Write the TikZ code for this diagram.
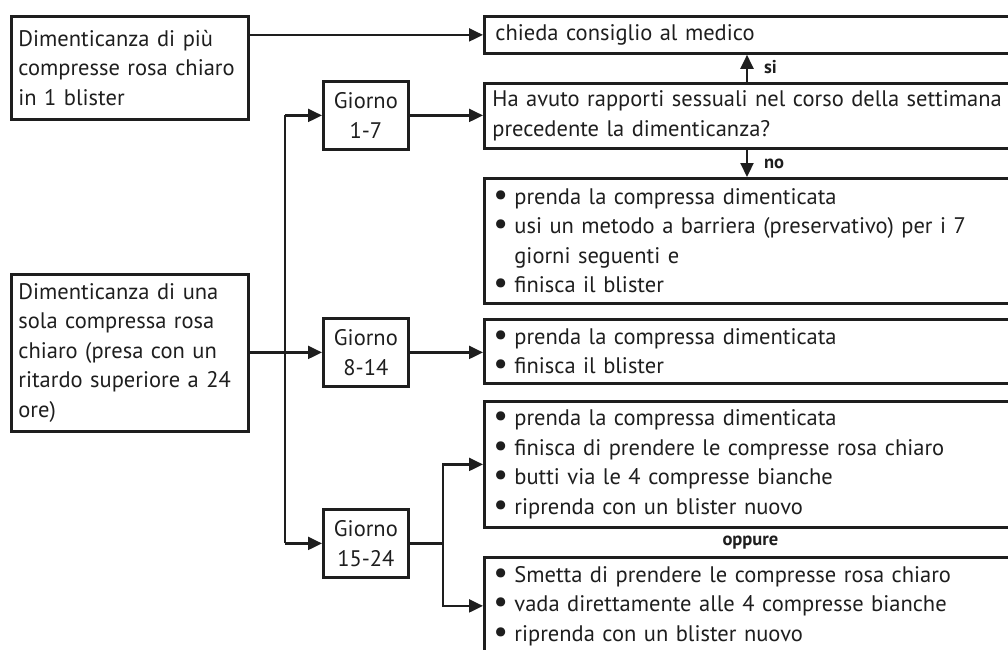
\documentclass[tikz,border=0pt]{standalone}
\usepackage{fontspec}
\setmainfont{PT Sans}
\usetikzlibrary{arrows.meta,calc}
\definecolor{ink}{HTML}{1E1E1E}
\newcommand{\bul}{\leavevmode\makebox[21pt][l]{\raisebox{-1pt}{\scalebox{1.45}{•}}}}
\newcommand{\ind}{\leavevmode\makebox[21pt][l]{\phantom{•}}}
\begin{document}
\begin{tikzpicture}[x=1pt,y=-1pt,
  every node/.style={text=ink},
  box/.style={draw=ink,line width=2.8pt,anchor=north west,align=left,inner xsep=7pt,inner ysep=0pt,
    font=\fontsize{22.5}{29.5}\selectfont},
  rbox/.style={box,minimum width=532pt,text width=516pt},
  day/.style={draw=ink,line width=2.8pt,anchor=north west,align=center,inner sep=0pt,
    minimum width=85pt,minimum height=68pt,font=\fontsize{22.5}{30}\selectfont},
  conn/.style={draw=ink,line width=2.2pt},
  arr/.style={conn,-{Triangle[length=14pt,width=13pt]}},
  lab/.style={font=\fontsize{18.5}{20}\selectfont\bfseries,inner sep=0pt}]
\useasboundingbox (0,0) rectangle (1008,649);
\begin{scope}
\clip (0,0) rectangle (1008,649);
\node[box,minimum width=237pt,minimum height=103pt,text width=223pt] (A) at (10,15)
  {Dimenticanza di più\\compresse rosa chiaro\\in 1 blister};
\node[box,minimum width=237pt,minimum height=157pt,text width=223pt] (B) at (10,273)
  {Dimenticanza di una\\sola compressa rosa\\chiaro (presa con un\\ritardo superiore a 24\\ore)};
\node[rbox,minimum height=37pt,inner xsep=11pt,text width=510pt] (med) at (483,15) {chieda consiglio al medico};
\node[rbox,minimum height=65pt] (q) at (483,82)
  {Ha avuto rapporti sessuali nel corso della settimana\\precedente la dimenticanza?};
\node[rbox,minimum height=125pt,inner xsep=9pt,text width=514pt] (r1) at (483,177)
  {\bul prenda la compressa dimenticata\\\bul usi un metodo a barriera (preservativo) per i 7\\\ind giorni seguenti e\\\bul finisca il blister};
\node[rbox,minimum height=64pt,inner xsep=9pt,text width=514pt] (r2) at (483,318)
  {\bul prenda la compressa dimenticata\\\bul finisca il blister};
\node[rbox,minimum height=126pt,inner xsep=9pt,text width=514pt] (r3a) at (483,400)
  {\bul prenda la compressa dimenticata\\\bul finisca di prendere le compresse rosa chiaro\\\bul butti via le 4 compresse bianche\\\bul riprenda con un blister nuovo};
\node[rbox,minimum height=97pt,inner xsep=9pt,text width=514pt] (r3b) at (483,556)
  {\bul Smetta di prendere le compresse rosa chiaro\\\bul vada direttamente alle 4 compresse bianche\\\bul riprenda con un blister nuovo};
\node[day] (g1) at (322,80) {Giorno\\1-7};
\node[day] (g2) at (322,317) {Giorno\\8-14};
\node[day] (g3) at (322,508) {Giorno\\15-24};
\coordinate (tx) at (285,0);
\coordinate (sp) at (443,0);
\coordinate (vx) at (747,0);
% connectors
\draw[arr] (A.east |- med.west) -- (med.west);
\draw[arr] (vx |- q.north) -- (vx |- med.south) node[lab,midway,anchor=west,xshift=16pt,yshift=1pt] {si};
\draw[arr] (vx |- q.south) -- (vx |- r1.north) node[lab,midway,anchor=west,xshift=16pt,yshift=0pt] {no};
\draw[conn] (tx |- g3.west) -- (tx |- g1.west);
\draw[arr] (tx |- g1.west) -- (g1.west);
\draw[arr] (tx |- g3.west) -- (g3.west);
\draw[arr] (B.east |- g2.west) -- (g2.west);
\draw[arr] (g1.east) -- (g1.east -| q.west);
\draw[arr] (g2.east) -- (g2.east -| r2.west);
\draw[conn] (g3.east) -- (sp |- g3.east);
\draw[arr] (sp |- g3.east) |- (r3a.west);
\draw[arr] (sp |- g3.east) |- (r3b.west);
\node[lab] (opp) at ($(r3a.south)!0.5!(r3b.north)$) {oppure};
\end{scope}
\end{tikzpicture}
\end{document}
